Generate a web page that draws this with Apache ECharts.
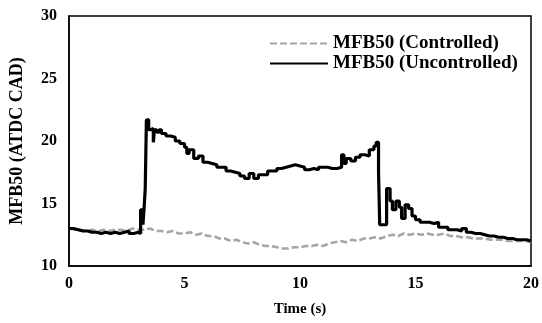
<!DOCTYPE html>
<html>
<head>
<meta charset="utf-8">
<script src="https://cdn.jsdelivr.net/npm/echarts@6/dist/echarts.min.js"></script>
<style>
  html, body { margin: 0; padding: 0; background: #fff; }
  #chart { width: 542px; height: 323px; }
</style>
</head>
<body>
<div id="chart"></div>
<script>
// Tiempo (s) y MFB50 sin control
const tUncontrolled = [0, 0.2, 0.4, 0.6, 0.8, 1.0, 1.2, 1.4, 1.6, 1.8, 2.0, 2.2, 2.4, 2.6, 2.8, 3.0,
  3.1, 3.2, 3.25, 3.3, 3.35, 3.45, 3.55, 3.65, 3.7, 3.8, 3.9, 4.0, 4.2, 4.4, 4.6, 4.8, 5.0, 5.1, 5.2, 5.4,
  5.6, 5.8, 6.0, 6.2, 6.4, 6.6, 6.8, 7.0, 7.2, 7.4, 7.6, 7.8, 8.0, 8.2, 8.4, 8.6, 8.8, 9.0, 9.2, 9.4,
  9.6, 9.8, 10.0, 10.2, 10.4, 10.6, 10.8, 11.0, 11.2, 11.4, 11.6, 11.8, 11.9, 12.0, 12.2, 12.4, 12.6,
  12.8, 13.0, 13.2, 13.3, 13.4, 13.45, 13.6, 13.75, 13.9, 14.0, 14.15, 14.3, 14.4, 14.55, 14.7, 14.85,
  15.0, 15.2, 15.4, 15.6, 15.8, 16.0, 16.2, 16.4, 16.6, 16.8, 17.0, 17.2, 17.4, 17.6, 17.8, 18.0, 18.2,
  18.4, 18.6, 18.8, 19.0, 19.2, 19.4, 19.6, 19.8, 20.0];
const mfbUncontrolled = [13.0, 12.9, 12.8, 12.8, 12.7, 12.7, 12.6, 12.7, 12.6, 12.7, 12.6, 12.7, 12.8, 12.6, 12.7, 12.6,
  14.5, 13.3, 14.6, 16.2, 21.7, 20.9, 21.0, 19.9, 20.9, 20.7, 20.9, 20.6, 20.4, 20.3, 20.0, 19.8, 19.5, 19.0, 19.3, 18.6,
  18.8, 18.3, 18.2, 18.1, 17.9, 17.9, 17.6, 17.5, 17.4, 17.2, 17.0, 17.4, 17.0, 17.3, 17.3, 17.6, 17.6, 17.8, 17.9, 18.0,
  18.1, 18.0, 17.9, 17.7, 17.8, 17.7, 17.9, 17.9, 17.8, 17.8, 17.9, 18.9, 18.2, 18.6, 18.4, 18.7, 18.9,
  18.8, 19.3, 19.6, 19.9, 17.5, 13.3, 13.3, 16.2, 15.2, 14.5, 15.2, 14.7, 13.8, 14.9, 14.6, 14.0,
  13.7, 13.5, 13.5, 13.4, 13.5, 13.1, 13.1, 12.9, 12.9, 12.8, 13.0, 12.7, 12.6, 12.6, 12.5, 12.4, 12.4,
  12.3, 12.3, 12.2, 12.2, 12.1, 12.1, 12.1, 12.0, 12.0];

// Tiempo (s) y MFB50 con control
const tControlled = [0, 0.25, 0.5, 0.75, 1, 1.25, 1.5, 1.75, 2, 2.25, 2.5, 2.75, 3, 3.25, 3.5, 3.75, 4, 4.25,
  4.5, 4.75, 5, 5.25, 5.5, 5.75, 6, 6.25, 6.5, 6.75, 7, 7.25, 7.5, 7.75, 8, 8.25, 8.5, 8.75, 9, 9.25, 9.5,
  9.75, 10, 10.25, 10.5, 10.75, 11, 11.25, 11.5, 11.75, 12, 12.25, 12.5, 12.75, 13, 13.25, 13.5, 13.75, 14,
  14.25, 14.5, 14.75, 15, 15.25, 15.5, 15.75, 16, 16.25, 16.5, 16.75, 17, 17.25, 17.5, 17.75, 18, 18.25,
  18.5, 18.75, 19, 19.25, 19.5, 19.75, 20];
const mfbControlled = [13.0, 12.9, 12.9, 12.8, 12.9, 12.8, 12.9, 12.8, 12.9, 12.9, 12.8, 13.0, 12.9, 12.9, 13.0, 12.8, 12.8, 12.7,
  12.8, 12.6, 12.6, 12.7, 12.5, 12.6, 12.4, 12.4, 12.2, 12.2, 12.0, 12.1, 11.9, 11.8, 11.9, 11.7, 11.6, 11.6, 11.5, 11.4, 11.4,
  11.5, 11.5, 11.6, 11.6, 11.7, 11.6, 11.8, 11.9, 12.0, 11.9, 12.1, 12.0, 12.2, 12.2, 12.3, 12.2, 12.4, 12.5,
  12.4, 12.6, 12.5, 12.6, 12.5, 12.6, 12.5, 12.5, 12.6, 12.4, 12.4, 12.3, 12.3, 12.2, 12.2, 12.2, 12.1,
  12.1, 12.1, 12.0, 12.0, 12.0, 12.0, 11.9];

const xTicks = [0, 5, 10, 15, 20];
const yTicks = [10, 15, 20, 25, 30];

const font = '"Liberation Serif", "Times New Roman", serif';
const txt = (size) => ({ fontFamily: font, fontWeight: 'bold', fontSize: size, color: '#000' });

const chart = echarts.init(document.getElementById('chart'));
chart.setOption({
  animation: false,
  grid: { left: 68, right: 10, top: 16, bottom: 57, show: true, borderColor: '#000', borderWidth: 1.5 },
  legend: {
    orient: 'vertical',
    left: 264,
    top: 29,
    itemWidth: 58,
    itemHeight: 14,
    itemGap: 1,
    textStyle: txt(19),
    itemStyle: { opacity: 0, borderWidth: 0 },
    data: ['MFB50 (Controlled)', 'MFB50 (Uncontrolled)']
  },
  xAxis: {
    type: 'value',
    min: xTicks[0],
    max: xTicks[xTicks.length - 1],
    interval: 5,
    name: 'Time (s)',
    nameLocation: 'middle',
    nameGap: 36,
    nameTextStyle: txt(15),
    axisLine: { lineStyle: { color: '#000', width: 1.5 } },
    axisTick: { show: false },
    splitLine: { show: false },
    axisLabel: Object.assign({ margin: 10 }, txt(16))
  },
  yAxis: {
    type: 'value',
    min: yTicks[0],
    max: yTicks[yTicks.length - 1],
    interval: 5,
    name: 'MFB50 (ATDC CAD)',
    nameLocation: 'middle',
    nameGap: 43,
    nameTextStyle: txt(18),
    axisLine: { show: true, lineStyle: { color: '#000', width: 1.5 } },
    axisTick: { show: false },
    splitLine: { show: false },
    axisLabel: Object.assign({ margin: 12 }, txt(16))
  },
  series: [
    {
      name: 'MFB50 (Controlled)',
      type: 'line',
      symbol: 'none',
      data: tControlled.map((t, i) => [t, mfbControlled[i]]),
      lineStyle: { color: '#a6a6a6', width: 2.5, type: [7, 3] },
      itemStyle: { color: '#a6a6a6' },
      z: 2
    },
    {
      name: 'MFB50 (Uncontrolled)',
      type: 'line',
      symbol: 'none',
      step: 'end',
      data: tUncontrolled.map((t, i) => [t, mfbUncontrolled[i]]),
      lineStyle: { color: '#000', width: 3.2 },
      itemStyle: { color: '#000' },
      z: 3
    }
  ]
});
</script>
</body>
</html>
